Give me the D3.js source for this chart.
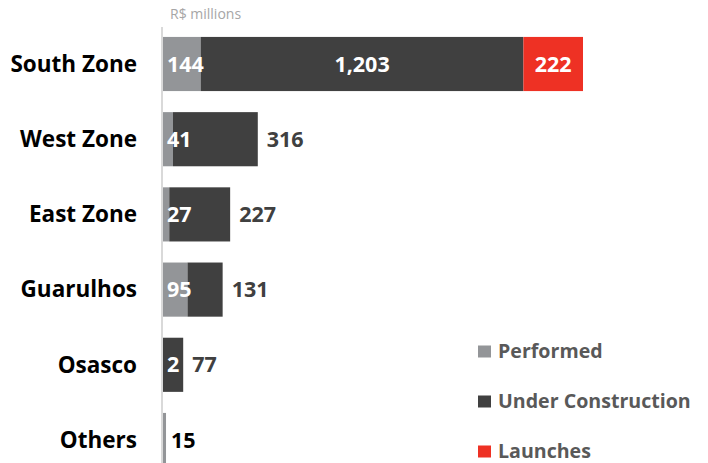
<!DOCTYPE html>
<html>
<head>
<meta charset="utf-8">
<script src="https://cdn.jsdelivr.net/npm/d3@7"></script>
<style>
  html, body { margin: 0; padding: 0; background: #fff; }
  svg { display: block; }
  text { font-family: "Open Sans", "Liberation Sans", Arial, sans-serif; }
</style>
</head>
<body>
<svg id="chart" width="708" height="463"></svg>
<script>
// Investment by region, R$ millions
const categories = ["South Zone", "West Zone", "East Zone", "Guarulhos", "Osasco", "Others"];
const performed = [144, 41, 27, 95, 2, 15];
const underConstruction = [1203, 316, 227, 131, 77, 0];
const launches = [222, 0, 0, 0, 0, 0];
const seriesNames = ["Performed", "Under Construction", "Launches"];
const seriesColors = ["#939598", "#404040", "#ee3124"];

const fmt = d3.format(",");
const svg = d3.select("#chart");

const rows = categories.map((c, i) => ({
  category: c,
  Performed: performed[i],
  "Under Construction": underConstruction[i],
  Launches: launches[i]
}));

const stacked = d3.stack().keys(seriesNames)(rows);

const x = d3.scaleLinear().domain([0, 1569]).range([162, 583]);
const y = d3.scaleBand().domain(categories).range([26.4, 477.6])
  .paddingInner(0.28).paddingOuter(0.14);
const color = d3.scaleOrdinal().domain(seriesNames).range(seriesColors);

// unit label
svg.append("text")
  .attr("x", 170).attr("y", 19)
  .attr("fill", "#a6a6a6")
  .attr("font-size", 14)
  .text("R$ millions");

// bars
const layers = svg.append("g").selectAll("g")
  .data(stacked).join("g")
  .attr("fill", d => color(d.key));

layers.selectAll("rect")
  .data(d => d.map(v => ({ v, key: d.key })))
  .join("rect")
  .attr("x", d => x(d.v[0]))
  .attr("y", d => y(d.v.data.category))
  .attr("width", d => Math.max(0, x(d.v[1]) - x(d.v[0])))
  .attr("height", y.bandwidth());

// vertical axis line
svg.append("line")
  .attr("x1", 162).attr("x2", 162)
  .attr("y1", 27).attr("y2", 463)
  .attr("stroke", "#d9d9d9").attr("stroke-width", 2);

// category labels
const yAxis = d3.axisLeft(y).tickSize(0).tickPadding(0);
const axisG = svg.append("g").attr("transform", "translate(137,0)").call(yAxis);
axisG.select(".domain").remove();
axisG.selectAll("text")
  .attr("font-size", 22.5)
  .attr("font-weight", "bold")
  .attr("fill", "#000")
  .attr("dy", "0.35em")
  .attr("font-family", "'Open Sans', 'Liberation Sans', Arial, sans-serif");

// value labels
const labels = svg.append("g")
  .attr("font-size", 21.5)
  .attr("font-weight", "bold");

function addLabel(tx, ty, txt, fill, anchor) {
  labels.append("text")
    .attr("x", tx).attr("y", ty)
    .attr("dy", "0.35em")
    .attr("text-anchor", anchor || "start")
    .attr("fill", fill)
    .text(txt);
}

rows.forEach(r => {
  const cy = y(r.category) + y.bandwidth() / 2;
  const p = r.Performed, u = r["Under Construction"], l = r.Launches;
  if (p > 0) {
    // performed value sits at the bar start; alone, it goes after the bar
    if (u > 0 || l > 0) addLabel(x(0) + 5, cy, fmt(p), "#fff");
    else addLabel(x(p) + 5, cy, fmt(p), "#000");
  }
  if (u > 0) {
    const w = x(p + u) - x(p);
    if (w > 100) addLabel((x(p) + x(p + u)) / 2, cy, fmt(u), "#fff", "middle");
    else addLabel(x(p + u) + 9, cy, fmt(u), "#404040");
  }
  if (l > 0) addLabel((x(p + u) + x(p + u + l)) / 2, cy, fmt(l), "#fff", "middle");
});

// legend
const legend = svg.append("g").selectAll("g")
  .data(seriesNames).join("g")
  .attr("transform", (d, i) => `translate(478,${351.5 + i * 50})`);
legend.append("rect")
  .attr("x", 0).attr("y", -6)
  .attr("width", 13).attr("height", 12)
  .attr("fill", d => color(d));
legend.append("text")
  .attr("x", 20).attr("y", 0)
  .attr("dy", "0.35em")
  .attr("font-size", 19.6)
  .attr("font-weight", "bold")
  .attr("fill", "#595959")
  .text(d => d);
</script>
</body>
</html>
